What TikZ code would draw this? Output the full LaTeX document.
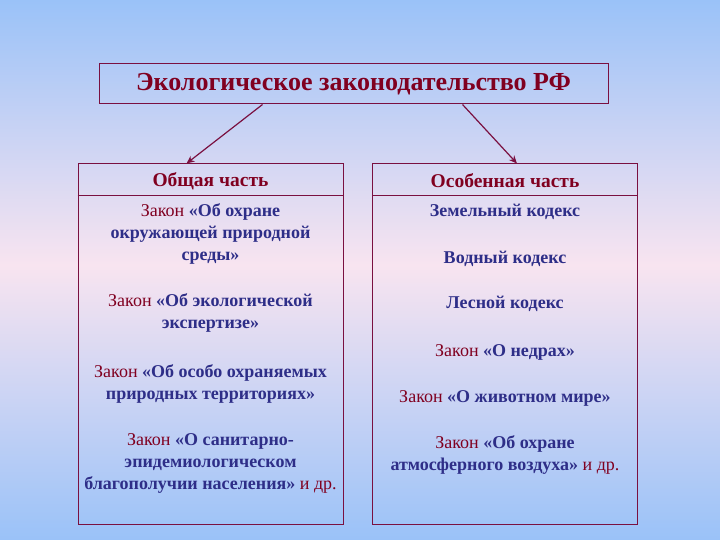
\documentclass[tikz,border=0pt]{standalone}
\usepackage{fontspec}
\setmainfont{Liberation Serif}
\usetikzlibrary{arrows.meta}
\definecolor{bgblue}{HTML}{9AC2F8}
\definecolor{bgpink}{HTML}{F8E4F0}
\definecolor{framec}{HTML}{7A1040}
\definecolor{tred}{HTML}{800020}
\definecolor{tblue}{HTML}{2E2E88}
\newcommand{\zk}{{\mdseries\color{tred}Закон} }
\newcommand{\idr}{ {\mdseries\color{tred}и др.}}
\tikzset{
  boxc/.style={draw=framec, line width=1pt, rectangle, inner sep=0pt},
  txt/.style={font=\fontsize{18}{22}\selectfont\bfseries, text=tblue, align=center, inner sep=0pt},
  head/.style={font=\fontsize{19.5}{22}\selectfont\bfseries, text=tred, inner sep=0pt},
  arr/.style={draw=framec, line width=1.2pt, -{Stealth[length=8pt,width=7pt]}}
}
\begin{document}
\begin{tikzpicture}[x=1pt,y=-1pt]
\useasboundingbox (0,0) rectangle (720,540);
\shade[top color=bgblue, bottom color=bgpink] (0,0) rectangle (720,265);
\shade[top color=bgpink, bottom color=bgblue] (0,265) rectangle (720,540);

\node[boxc, minimum width=509pt, minimum height=40pt,
      font=\fontsize{26}{28}\selectfont\bfseries, text=tred] (title) at (353.5,84) {Экологическое законодательство РФ};

\node[boxc, minimum width=265pt, minimum height=360pt] (left) at (210.5,344) {};
\node[boxc, minimum width=265pt, minimum height=360pt] (right) at (505,344) {};
\draw[framec, line width=1pt] ([yshift=-32pt]left.north west) -- ([yshift=-32pt]left.north east);
\draw[framec, line width=1pt] ([yshift=-32pt]right.north west) -- ([yshift=-32pt]right.north east);

\draw[arr] ([xshift=-91pt]title.south) -- ([xshift=-24pt]left.north);
\draw[arr] ([xshift=109pt]title.south) -- ([xshift=12pt]right.north);

\node[head] (lh) at (210.5,181) {Общая часть};
\node[head] (rh) at (505,181) {Особенная часть};

\node[txt] (l1) at (210.5,234) {\zk«Об охране\\окружающей природной\\среды»};
\node[txt] (l2) at (210.5,313) {\zk«Об экологической\\экспертизе»};
\node[txt] (l3) at (210.5,384) {\zk«Об особо охраняемых\\природных территориях»};
\node[txt] (l4) at (210.5,463) {\zk«О санитарно-\\эпидемиологическом\\благополучии населения»\idr};

\node[txt] (r1) at (505,212) {Земельный кодекс};
\node[txt] (r2) at (505,259) {Водный кодекс};
\node[txt] (r3) at (505,304) {Лесной кодекс};
\node[txt] (r4) at (505,352) {\zk«О недрах»};
\node[txt] (r5) at (505,398) {\zk«О животном мире»};
\node[txt] (r6) at (505,455) {\zk«Об охране\\атмосферного воздуха»\idr};
\end{tikzpicture}
\end{document}
